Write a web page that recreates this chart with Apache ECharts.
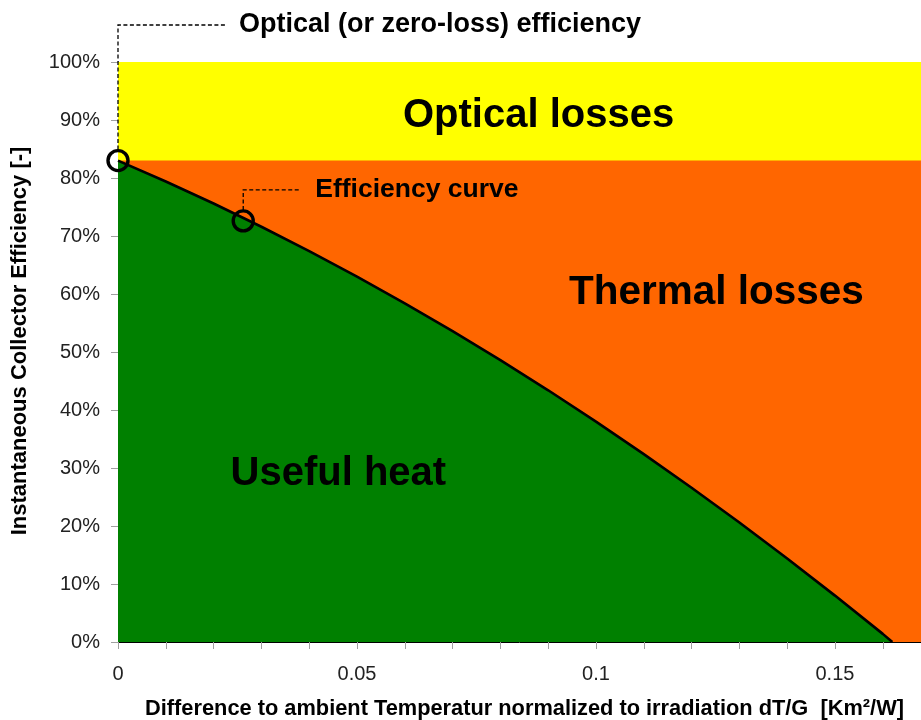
<!DOCTYPE html>
<html>
<head>
<meta charset="utf-8">
<script src="https://cdn.jsdelivr.net/npm/echarts@6/dist/echarts.min.js"></script>
<style>html,body{margin:0;padding:0;background:#fff}#c{width:921px;height:720px}</style>
</head>
<body>
<div id="c"></div>
<script>
// ---- data ----
const dtG = [0, 0.01, 0.02, 0.03, 0.04, 0.05, 0.06, 0.07, 0.08, 0.09, 0.10, 0.11, 0.12, 0.13, 0.14, 0.15, 0.16, 0.162];
const efficiency = [83.0, 79.4, 75.6, 71.6, 67.4, 63.0, 58.4, 53.6, 48.6, 43.4, 38.0, 32.4, 26.6, 20.6, 14.4, 8.0, 1.4, 0.0];
const markerX = [0, 0.0262];
const markerY = [83.0, 72.6];
const opticalEfficiency = 83.0;
const fullEfficiency = 100;
const xMin = 0, xMax = 0.168;
const xTickLabels = ['0', '0.05', '0.1', '0.15'];
const yTickLabels = ['0%','10%','20%','30%','40%','50%','60%','70%','80%','90%','100%'];
const annotations = ['Optical (or zero-loss) efficiency', 'Efficiency curve'];
const regionLabels = ['Optical losses', 'Thermal losses', 'Useful heat'];

const FONT = '"Liberation Sans", Arial, Helvetica, sans-serif';
const chart = echarts.init(document.getElementById('c'), null, {renderer: 'canvas'});

const curve = dtG.map((x, i) => [x, efficiency[i]]);

chart.setOption({
  animation: false,
  backgroundColor: '#ffffff',
  grid: {left: 118, right: 0, top: 62, bottom: 78, containLabel: false, outerBoundsMode: 'none'},
  xAxis: {
    type: 'value', min: xMin, max: xMax, interval: 0.01,
    name: 'Difference to ambient Temperatur normalized to irradiation dT/G  [Km\u00b2/W]',
    nameLocation: 'middle', nameGap: 56,
    nameTextStyle: {fontFamily: FONT, fontWeight: 'bold', fontSize: 21.8, color: '#000', padding: [0, 0, 0, 10]},
    axisLine: {show: true, onZero: false, lineStyle: {color: '#000', width: 1}},
    axisTick: {show: true, length: 7, lineStyle: {color: '#a0a0a0'}},
    splitLine: {show: false},
    axisLabel: {
      margin: 22, fontFamily: FONT, fontSize: 20, color: '#222',
      showMaxLabel: false,
      formatter: function (v) {
        const r = Math.round(v * 100);
        if (r % 5 !== 0) return '';
        const idx = r / 5;
        return xTickLabels[idx] !== undefined ? xTickLabels[idx] : '';
      }
    }
  },
  yAxis: {
    type: 'value', min: 0, max: 100, interval: 10,
    name: 'Instantaneous Collector Efficiency [-]',
    nameLocation: 'middle', nameGap: 87, nameRotate: 90,
    nameTextStyle: {fontFamily: FONT, fontWeight: 'bold', fontSize: 22, color: '#000', padding: [0, 0, 0, 22]},
    axisLine: {show: true, lineStyle: {color: '#000', width: 1}},
    axisTick: {show: true, length: 7, lineStyle: {color: '#a0a0a0'}},
    splitLine: {show: false},
    axisLabel: {
      margin: 18, fontFamily: FONT, fontSize: 20, color: '#222',
      formatter: function (v) { return yTickLabels[Math.round(v / 10)]; }
    }
  },
  series: [
    {
      name: 'Optical losses', type: 'line', z: 1, silent: true,
      data: [[xMin, fullEfficiency], [xMax, fullEfficiency]],
      symbol: 'none', lineStyle: {width: 0},
      areaStyle: {color: '#ffff00', opacity: 1, origin: 'start'}
    },
    {
      name: 'Thermal losses', type: 'line', z: 2, silent: true,
      data: [[xMin, opticalEfficiency], [xMax, opticalEfficiency]],
      symbol: 'none', lineStyle: {width: 0},
      areaStyle: {color: '#ff6600', opacity: 1, origin: 'start'}
    },
    {
      name: 'Useful heat', type: 'line', z: 3, silent: true,
      data: curve,
      symbol: 'none', lineStyle: {width: 2.6, color: '#000'},
      areaStyle: {color: '#008000', opacity: 1, origin: 'start'}
    },
    {
      name: 'markers', type: 'scatter', z: 5, clip: false, silent: true,
      data: markerX.map((x, i) => [x, markerY[i]]),
      symbol: 'circle', symbolSize: 20,
      itemStyle: {color: 'rgba(0,0,0,0)', borderColor: '#000', borderWidth: 3.4, opacity: 1}
    }
  ]
});

// annotations positioned from data coordinates
const P = (x, y) => chart.convertToPixel({gridIndex: 0}, [x, y]);
const m1 = P(markerX[0], markerY[0]);
const m2 = P(markerX[1], markerY[1]);
const dash = {stroke: '#000', lineWidth: 1.3, lineDash: [4, 2.5]};
const t1y = 25, t2y = m2[1] - 31;
const optC = P(0.088, 90.7), thC = P(0.1252, 60.2), useC = P(0.0461, 29.0);
chart.setOption({
  graphic: [
    {type: 'polyline', z: 10, silent: true, shape: {points: [[m1[0], m1[1] - 11], [m1[0], t1y], [m1[0] + 108, t1y]]}, style: dash},
    {type: 'text', z: 10, silent: true, x: m1[0] + 121, y: t1y, style: {text: annotations[0], fontFamily: FONT, fontWeight: 'bold', fontSize: 27, fill: '#000', verticalAlign: 'middle', align: 'left'}},
    {type: 'polyline', z: 10, silent: true, shape: {points: [[m2[0], m2[1] - 11], [m2[0], t2y], [m2[0] + 56, t2y]]}, style: dash},
    {type: 'text', z: 10, silent: true, x: m2[0] + 72, y: t2y, style: {text: annotations[1], fontFamily: FONT, fontWeight: 'bold', fontSize: 26.5, fill: '#000', verticalAlign: 'middle', align: 'left'}},
    {type: 'text', z: 10, silent: true, x: optC[0], y: optC[1], style: {text: regionLabels[0], fontFamily: FONT, fontWeight: 'bold', fontSize: 40, fill: '#000', align: 'center', verticalAlign: 'middle'}},
    {type: 'text', z: 10, silent: true, x: thC[0], y: thC[1], style: {text: regionLabels[1], fontFamily: FONT, fontWeight: 'bold', fontSize: 40.5, fill: '#000', align: 'center', verticalAlign: 'middle'}},
    {type: 'text', z: 10, silent: true, x: useC[0], y: useC[1], style: {text: regionLabels[2], fontFamily: FONT, fontWeight: 'bold', fontSize: 40, fill: '#000', align: 'center', verticalAlign: 'middle'}}
  ]
});
</script>
</body>
</html>
